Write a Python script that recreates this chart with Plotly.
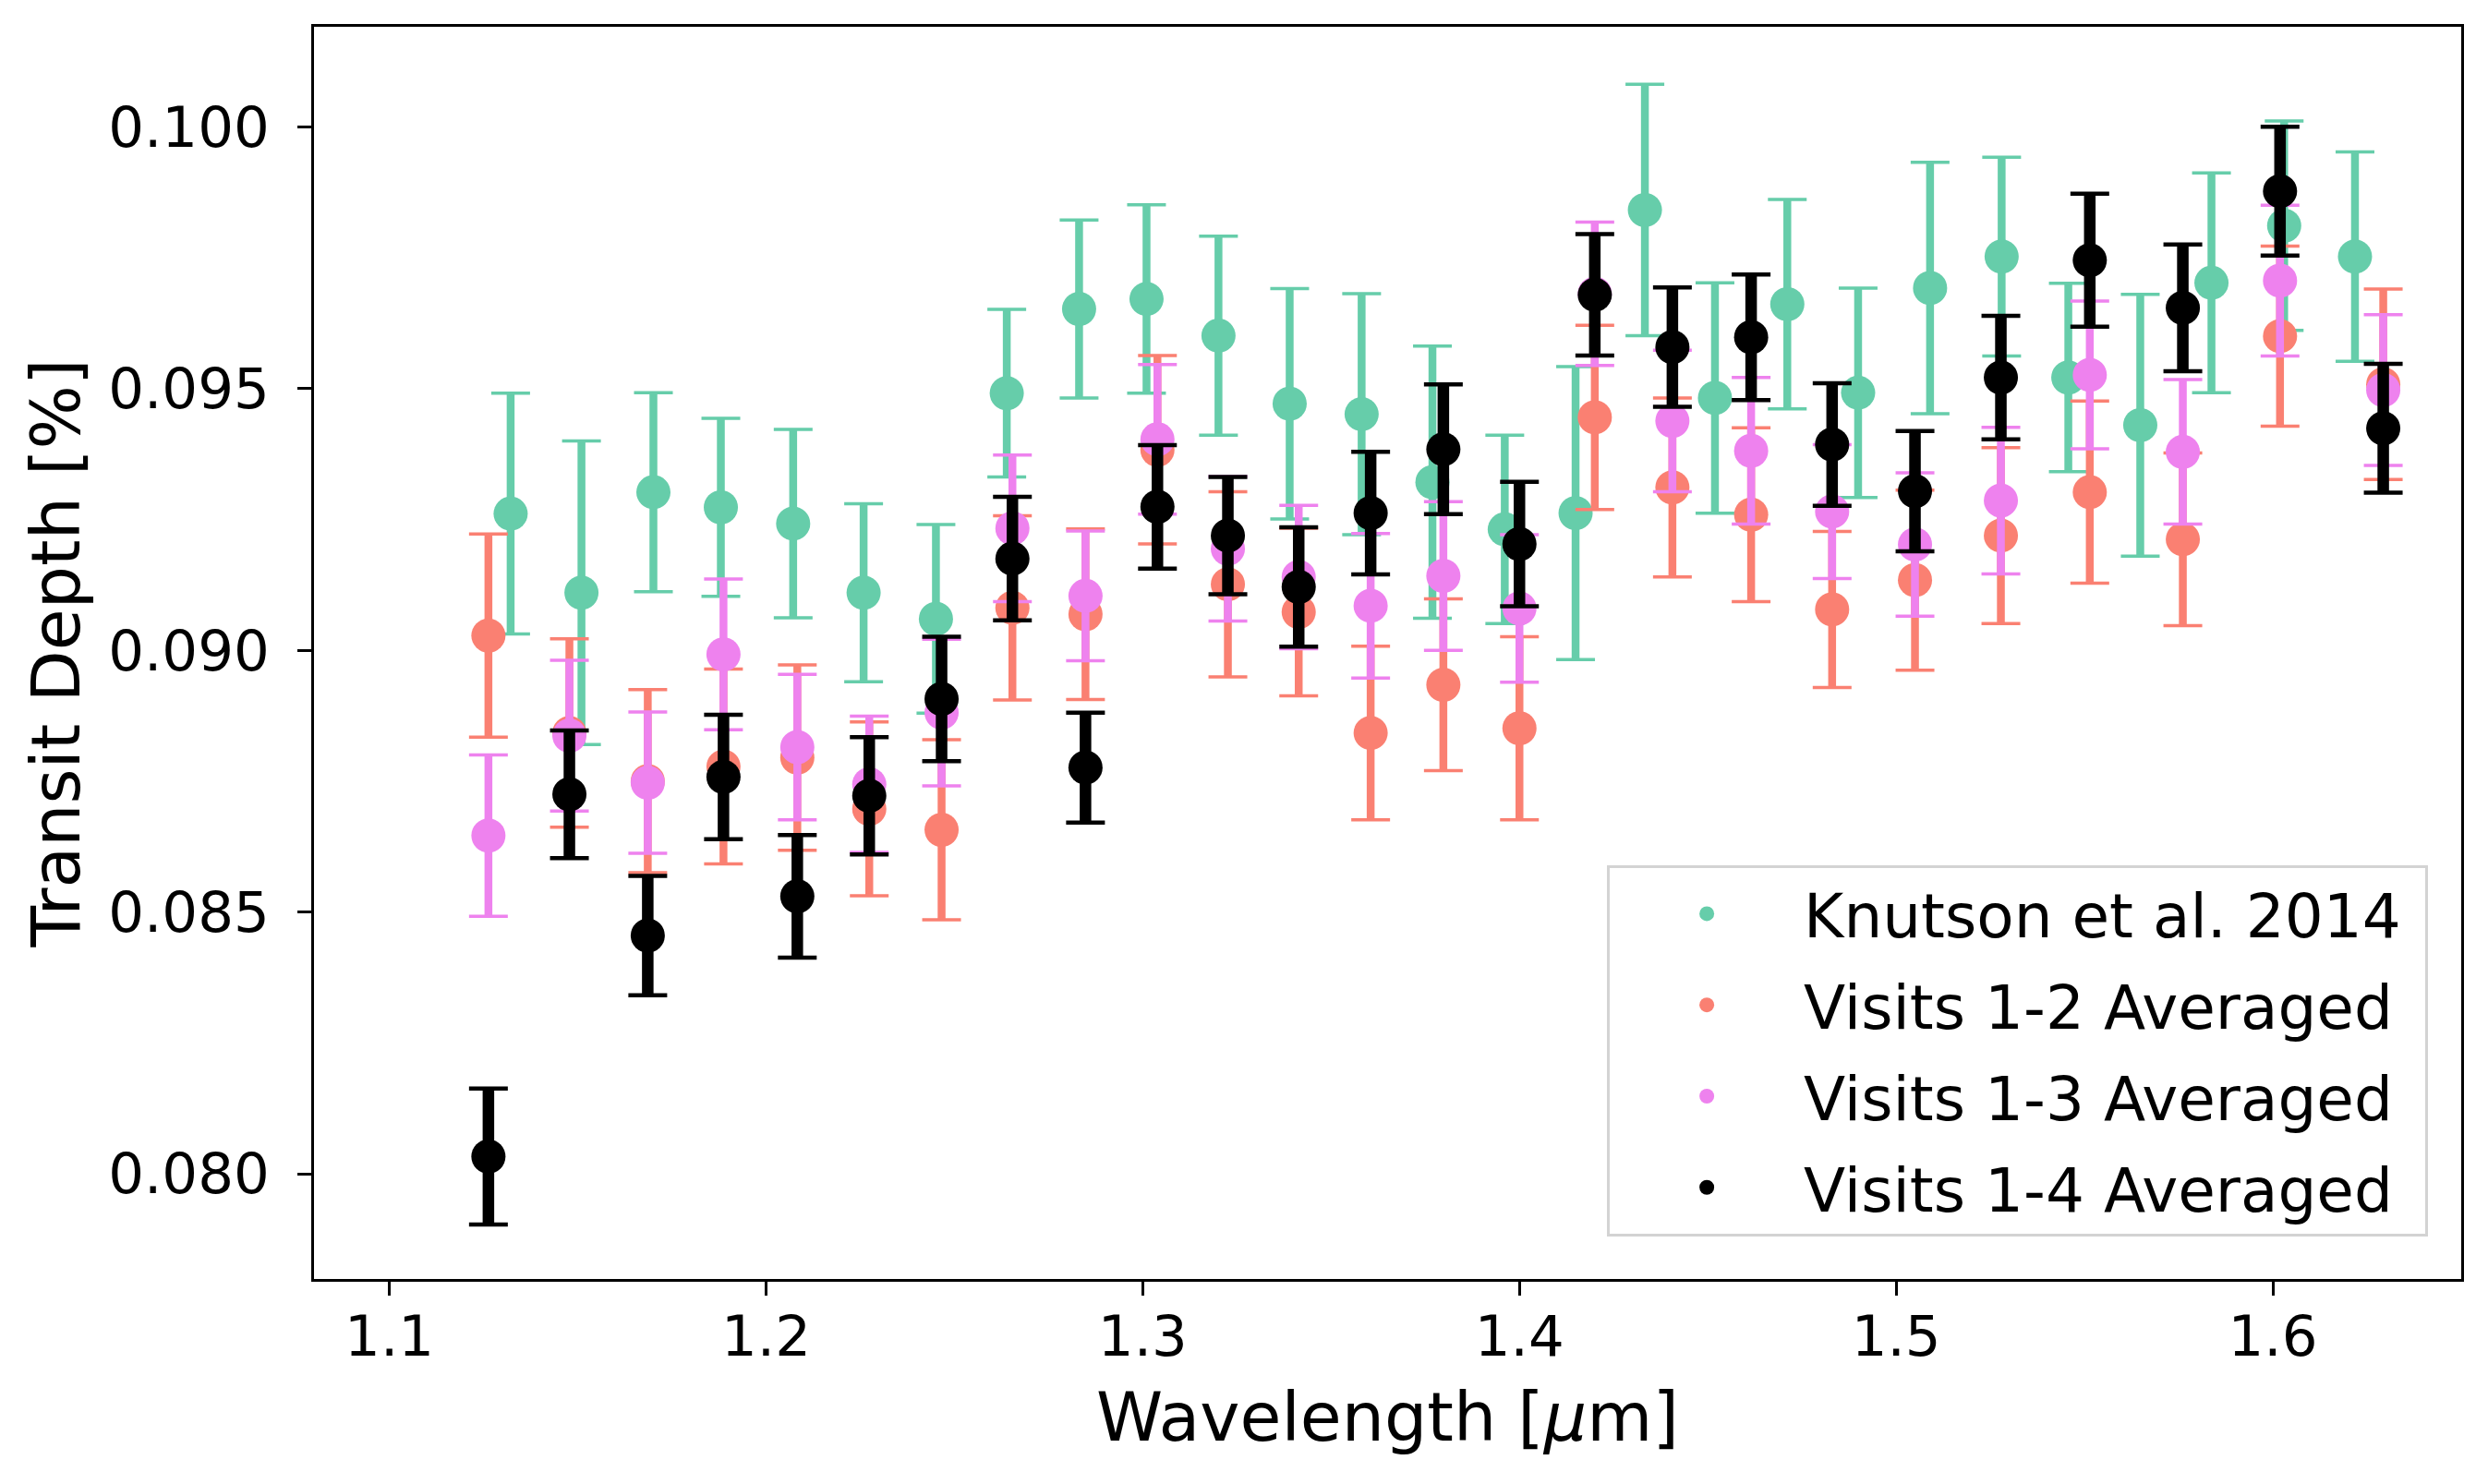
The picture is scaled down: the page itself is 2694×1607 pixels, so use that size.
import plotly.graph_objects as go

# ---- data ----
knutson_wl = [1.1322, 1.1510, 1.1701, 1.1880, 1.2072, 1.2259, 1.2451, 1.2639, 1.2831,
              1.3010, 1.3201, 1.3390, 1.3581, 1.3769, 1.3961, 1.4149, 1.4333, 1.4519,
              1.4711, 1.4899, 1.5090, 1.5280, 1.5457, 1.5648, 1.5837, 1.6030, 1.6218]
knutson_depth = [0.09261, 0.09110, 0.09302, 0.09273, 0.09242, 0.09110, 0.09060, 0.09491,
                 0.09652, 0.09671, 0.09601, 0.09471, 0.09451, 0.09321, 0.09231, 0.09262,
                 0.09841, 0.09482, 0.09661, 0.09492, 0.09692, 0.09752, 0.09521, 0.09430,
                 0.09702, 0.09811, 0.09752]
knutson_err = [0.0023, 0.0029, 0.0019, 0.0017, 0.0018, 0.0017, 0.0018, 0.0016, 0.0017,
               0.0018, 0.0019, 0.0022, 0.0023, 0.0026, 0.0018, 0.0028, 0.0024, 0.0022,
               0.0020, 0.0020, 0.0024, 0.0019, 0.0018, 0.0025, 0.0021, 0.0020, 0.0020]

visit_wl = [1.1263, 1.1478, 1.1686, 1.1887, 1.2083, 1.2274, 1.2466, 1.2654, 1.2848,
            1.3039, 1.3226, 1.3414, 1.3605, 1.3798, 1.4000, 1.4200, 1.4406, 1.4615,
            1.4830, 1.5050, 1.5278, 1.5514, 1.5761, 1.6019, 1.6293]

v12_depth = [0.09028, 0.08842, 0.08750, 0.08778, 0.08795, 0.08697, 0.08657, 0.09081,
             0.09069, 0.09383, 0.09126, 0.09073, 0.08842, 0.08934, 0.08851, 0.09445,
             0.09311, 0.09259, 0.09078, 0.09134, 0.09219, 0.09302, 0.09212, 0.09600,
             0.09508]
v12_err = [0.00194, 0.00180, 0.00175, 0.00186, 0.00177, 0.00166, 0.00172, 0.00176,
           0.00163, 0.00180, 0.00177, 0.00160, 0.00166, 0.00164, 0.00175, 0.00176,
           0.00171, 0.00166, 0.00149, 0.00172, 0.00168, 0.00174, 0.00165, 0.00172,
           0.00182]

v13_depth = [0.08646, 0.08837, 0.08747, 0.08992, 0.08815, 0.08744, 0.08881, 0.09233,
             0.09104, 0.09403, 0.09194, 0.09140, 0.09085, 0.09142, 0.09080, 0.09681,
             0.09438, 0.09381, 0.09265, 0.09202, 0.09286, 0.09526, 0.09379, 0.09706,
             0.09497]
v13_err = [0.00154, 0.00144, 0.00135, 0.00144, 0.00139, 0.00130, 0.00140, 0.00140,
           0.00124, 0.00143, 0.00138, 0.00137, 0.00138, 0.00142, 0.00141, 0.00137,
           0.00135, 0.00140, 0.00128, 0.00137, 0.00140, 0.00141, 0.00138, 0.00144,
           0.00144]

v14_depth = [0.08033, 0.08725, 0.08455, 0.08758, 0.08530, 0.08722, 0.08907, 0.09175,
             0.08776, 0.09274, 0.09219, 0.09121, 0.09262, 0.09384, 0.09203, 0.09679,
             0.09579, 0.09598, 0.09393, 0.09304, 0.09521, 0.09745, 0.09654, 0.09877,
             0.09424]
v14_err = [0.00130, 0.00122, 0.00114, 0.00119, 0.00117, 0.00112, 0.00119, 0.00118,
           0.00105, 0.00118, 0.00112, 0.00114, 0.00117, 0.00124, 0.00119, 0.00116,
           0.00114, 0.00120, 0.00117, 0.00115, 0.00118, 0.00127, 0.00121, 0.00123,
           0.00123]

series = [
    ("Knutson et al. 2014", knutson_wl, knutson_depth, knutson_err, "#66CDAA", 8.5, 3.5),
    ("Visits 1-2 Averaged", visit_wl, v12_depth, v12_err, "#FA8072", 8.5, 3.5),
    ("Visits 1-3 Averaged", visit_wl, v13_depth, v13_err, "#EE82EE", 8.5, 3.5),
    ("Visits 1-4 Averaged", visit_wl, v14_depth, v14_err, "#000000", 12.5, 4.5),
]

FONT = "DejaVu Sans"
fig = go.Figure()
for i, (name, xs, ys, es, col, stem_w, cap_w) in enumerate(series):
    grp = "g%d" % i
    # caps (thin)
    fig.add_trace(go.Scatter(
        x=xs, y=ys, mode="markers", showlegend=False, hoverinfo="skip",
        legendgroup=grp,
        marker=dict(size=2, color=col, opacity=0),
        error_y=dict(type="data", array=es, visible=True, color=col,
                     thickness=cap_w, width=21),
    ))
    # stems + markers
    fig.add_trace(go.Scatter(
        x=xs, y=ys, mode="markers", name=name + "\u00a0", legendgroup=grp,
        marker=dict(size=37, color=col, line=dict(width=0)),
        error_y=dict(type="data", array=es, visible=True, color=col,
                     thickness=stem_w, width=0),
    ))

fig.update_layout(
    width=2694, height=1607,
    margin=dict(l=332, r=37, t=21, b=230),
    paper_bgcolor="white", plot_bgcolor="white",
    font=dict(family=FONT, color="black", size=61),
    legend=dict(
        x=0.6022, y=0.3304, xanchor="left", yanchor="top",
        font=dict(family=FONT, size=66, color="black"),
        bgcolor="rgba(255,255,255,0.8)", bordercolor="#d3d3d3", borderwidth=3,
        traceorder="grouped", tracegroupgap=10, itemwidth=200,
        itemsizing="trace",
    ),
)
fig.update_xaxes(
    range=[1.08, 1.65], tick0=1.1, dtick=0.1, tickformat=".1f",
    showgrid=False, zeroline=False, showline=True, mirror=True,
    linecolor="black", linewidth=3,
    ticks="outside", ticklen=15, tickwidth=3, tickcolor="black",
    ticklabelstandoff=-8,
    tickfont=dict(family=FONT, size=61, color="black"),
    title=dict(text="Wavelength [<i>μ</i>m]", font=dict(family=FONT, size=73, color="black"), standoff=28),
)
fig.update_yaxes(
    range=[0.07799, 0.10191], tick0=0.08, dtick=0.005, tickformat=".3f",
    showgrid=False, zeroline=False, showline=True, mirror=True,
    linecolor="black", linewidth=3,
    ticks="outside", ticklen=15, tickwidth=3, tickcolor="black",
    ticklabelstandoff=18,
    tickfont=dict(family=FONT, size=61, color="black"),
    title=dict(text="Transit Depth [%]", font=dict(family=FONT, size=73, color="black"), standoff=7),
)

fig.write_html("out.html")
